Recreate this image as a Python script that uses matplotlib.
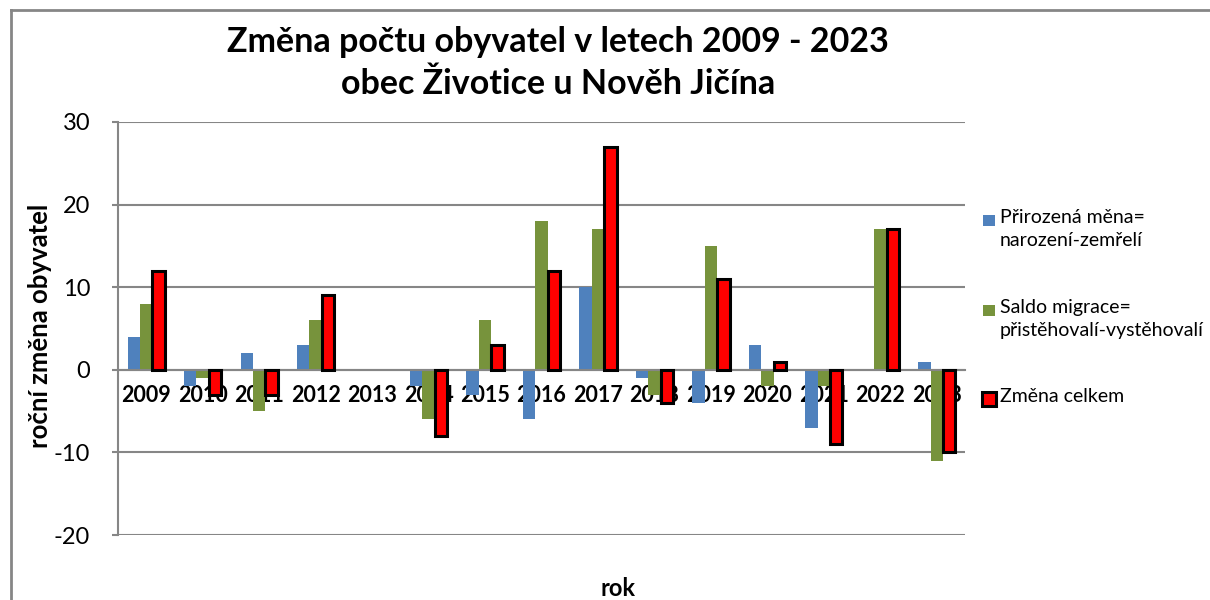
import numpy as np
import matplotlib.pyplot as plt
from matplotlib.patches import Rectangle
from matplotlib.lines import Line2D

plt.rcParams['font.family'] = ['Lato', 'DejaVu Sans']
plt.rcParams['axes.unicode_minus'] = False

years = ['2009', '2010', '2011', '2012', '2013', '2014', '2015', '2016',
         '2017', '2018', '2019', '2020', '2021', '2022', '2023']
natural = [4, -2, 2, 3, 0, -2, -3, -6, 10, -1, -4, 3, -7, 0, 1]
migration = [8, -1, -5, 6, 0, -6, 6, 18, 17, -3, 15, -2, -2, 17, -11]
total = [12, -3, -3, 9, 0, -8, 3, 12, 27, -4, 11, 1, -9, 17, -10]

lbl_natural = 'Přirozená měna=\nnarození-zemřelí'
lbl_migration = 'Saldo migrace=\npřistěhovalí-vystěhovalí'
lbl_total = 'Změna celkem'

blue = '#4F81BD'
green = '#77933C'
grey = '#868686'

W, H = 1210, 600
fig = plt.figure(figsize=(W / 100, H / 100), dpi=100)
ax = fig.add_axes([118 / W, 65 / H, (965 - 118) / W, (535 - 122) / H])

x = np.arange(len(years))
w = 0.22
ax.bar(x - w, natural, w, color=blue, zorder=2)
ax.bar(x, migration, w, color=green, zorder=2)
lw = [0 if v == 0 else 2.2 for v in total]
ax.bar(x + w, total, w, color='#FF0000', edgecolor='black', linewidth=lw, zorder=3)

ax.set_xlim(-0.5, len(years) - 0.5)
ax.set_ylim(-20, 30)
ax.set_yticks([-20, -10, 0, 10, 20, 30])
ax.set_axisbelow(True)
ax.yaxis.grid(True, color=grey, linewidth=1.5)

for s in ['top', 'right']:
    ax.spines[s].set_visible(False)
ax.spines['left'].set_color(grey)
ax.spines['left'].set_linewidth(1.5)
ax.spines['bottom'].set_position(('data', 0))
ax.spines['bottom'].set_color(grey)
ax.spines['bottom'].set_linewidth(1.5)

ax.set_xticks(x)
ax.set_xticklabels(years, fontsize=15.5, fontweight='bold')
ax.tick_params(axis='x', length=0, pad=11)
ax.tick_params(axis='y', length=4, color=grey, width=1.5, pad=16, labelsize=17)

ax.set_ylabel('roční změna obyvatel', fontsize=18.5, fontweight='bold')
ax.yaxis.set_label_coords(-0.078, 0.507)

fig.text(558 / W, 1 - 63 / H, 'Změna počtu obyvatel v letech 2009 - 2023\nobec Životice u Nověh Jičína',
         ha='center', va='center', fontsize=24.5, fontweight='bold', linespacing=1.4)
fig.text(618 / W, 1 - 588 / H, 'rok', ha='center', va='center', fontsize=17, fontweight='bold')

# legend
entries = [(lbl_natural, blue, None, 220), (lbl_migration, green, None, 310), (lbl_total, '#FF0000', 'black', 399)]
for text, fc, ec, yc in entries:
    if ec:
        fig.patches.append(Rectangle((982 / W, 1 - (yc + 7) / H), 14 / W, 14 / H, facecolor=fc,
                                     edgecolor=ec, linewidth=2.2, transform=fig.transFigure))
    else:
        fig.patches.append(Rectangle((983 / W, 1 - (yc + 6) / H), 12 / W, 11 / H, facecolor=fc,
                                     transform=fig.transFigure))
    fig.text(1000 / W, 1 - (yc - 11) / H, text, ha='left', va='top', fontsize=14, linespacing=1.45)

# chart border
fig.add_artist(Line2D([11 / W, 11 / W], [0, 1 - 10 / H], color=grey, linewidth=2, transform=fig.transFigure))
fig.add_artist(Line2D([11 / W, 1], [1 - 10 / H, 1 - 10 / H], color=grey, linewidth=2, transform=fig.transFigure))

fig.savefig('out.png', dpi=100)
